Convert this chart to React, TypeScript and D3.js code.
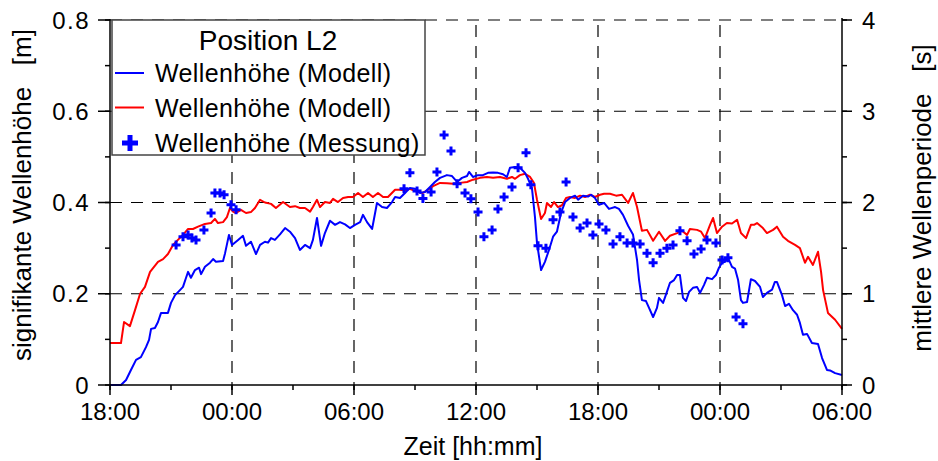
import React from 'react';
import * as d3 from 'd3';

// ---- data ----
const timeTicks = [0, 6, 12, 18, 24, 30, 36];
const timeTickLabels = ['18:00', '00:00', '06:00', '12:00', '18:00', '00:00', '06:00'];
const heightTicks = [0, 0.2, 0.4, 0.6, 0.8];
const heightTickLabels = ['0', '0.2', '0.4', '0.6', '0.8'];
const periodTicks = [0, 1, 2, 3, 4];
const periodTickLabels = ['0', '1', '2', '3', '4'];

const legendTitle = 'Position L2';
const seriesNames = ['Wellenhöhe (Modell)', 'Wellenhöhe (Modell)', 'Wellenhöhe (Messung)'];

// blue: model wave height [m], hours after 18:00
const blueHours = [0,0.54,0.79,1.03,1.28,1.52,1.77,1.92,2.02,2.21,
2.36,2.51,2.85,3.0,3.2,3.44,3.59,3.74,3.84,3.98,
4.18,4.38,4.48,4.67,4.92,5.07,5.21,5.56,5.66,5.85,
6.0,6.3,6.54,6.69,6.93,7.18,7.38,7.62,7.77,7.92,
8.11,8.36,8.61,8.85,9.1,9.34,9.59,9.84,9.98,10.18,
10.38,10.57,10.82,11.07,11.31,11.56,11.8,12.05,12.3,12.44,
12.64,12.89,13.13,13.38,13.62,13.87,14.02,14.26,14.51,14.75,
15.0,15.25,15.49,15.74,15.98,16.23,16.57,16.82,17.07,17.31,
17.56,17.66,17.85,18.1,18.34,18.59,18.84,19.08,19.33,19.52,
19.67,19.92,20.16,20.41,20.56,20.75,20.9,21.0,21.2,21.39,
21.59,21.79,21.98,22.18,22.38,22.62,22.87,23.02,23.26,23.51,
23.66,23.85,24.05,24.3,24.54,24.84,25.03,25.23,25.48,25.72,
25.92,26.02,26.16,26.36,26.51,26.71,26.9,27.0,27.2,27.39,
27.54,27.74,27.89,28.03,28.18,28.33,28.48,28.67,28.87,29.02,
29.21,29.36,29.61,29.8,29.95,30.1,30.25,30.39,30.59,30.74,
30.89,31.03,31.13,31.33,31.52,31.72,31.97,32.11,32.31,32.56,
32.7,32.8,33.05,33.2,33.39,33.59,33.79,33.93,34.08,34.28,
34.52,34.82,35.02,35.26,35.41,35.66,36.0];
const blueHeights = [0,0,0.011,0.033,0.055,0.061,0.083,0.099,0.123,0.125,
0.138,0.158,0.158,0.18,0.197,0.208,0.215,0.235,0.248,0.235,
0.252,0.257,0.243,0.259,0.268,0.276,0.27,0.272,0.289,0.329,
0.307,0.318,0.327,0.305,0.314,0.287,0.307,0.314,0.312,0.322,
0.318,0.33,0.344,0.336,0.322,0.296,0.307,0.3,0.318,0.366,
0.305,0.333,0.36,0.351,0.357,0.352,0.344,0.351,0.357,0.373,
0.357,0.342,0.399,0.39,0.388,0.401,0.412,0.41,0.421,0.432,
0.43,0.421,0.423,0.434,0.445,0.454,0.46,0.458,0.445,0.454,
0.458,0.467,0.456,0.46,0.46,0.465,0.466,0.465,0.462,0.456,
0.476,0.478,0.476,0.465,0.452,0.432,0.368,0.311,0.252,0.27,
0.296,0.325,0.336,0.377,0.401,0.41,0.415,0.406,0.415,0.413,
0.417,0.41,0.395,0.399,0.386,0.39,0.386,0.373,0.349,0.33,
0.274,0.23,0.186,0.184,0.169,0.149,0.169,0.191,0.18,0.204,
0.224,0.23,0.241,0.241,0.191,0.184,0.204,0.213,0.215,0.202,
0.219,0.235,0.232,0.241,0.257,0.268,0.27,0.279,0.259,0.255,
0.23,0.186,0.18,0.182,0.232,0.228,0.215,0.193,0.202,0.209,
0.226,0.226,0.197,0.173,0.178,0.164,0.154,0.136,0.11,0.112,
0.092,0.09,0.059,0.033,0.032,0.026,0.022];

// red: model mean wave period [s], right axis
const redHours = [0,0.54,0.69,0.98,1.23,1.48,1.72,1.97,2.36,2.61,
2.85,3.1,3.34,3.59,3.84,4.08,4.33,4.67,4.97,5.16,
5.31,5.56,5.75,5.9,6.05,6.2,6.44,6.69,6.93,7.13,
7.38,7.62,7.92,8.16,8.51,8.85,9.1,9.34,9.59,9.84,
9.98,10.18,10.33,10.57,10.82,10.97,11.21,11.46,11.71,11.95,
12.2,12.44,12.69,12.93,13.18,13.43,13.67,14.02,14.26,14.51,
14.75,14.9,15.15,15.39,15.64,15.89,16.23,16.57,16.87,17.21,
17.56,17.85,18.2,18.54,18.84,19.18,19.52,19.77,19.92,20.16,
20.41,20.66,20.85,21.0,21.2,21.39,21.49,21.69,21.84,22.03,
22.23,22.43,22.62,22.87,23.12,23.36,23.61,23.85,24.1,24.3,
24.59,24.89,25.18,25.48,25.72,25.92,26.16,26.41,26.71,27.0,
27.3,27.54,27.89,28.13,28.38,28.52,28.87,29.07,29.26,29.51,
29.66,29.85,30.1,30.34,30.59,30.84,31.03,31.28,31.52,31.67,
31.82,32.11,32.31,32.61,32.8,33.1,33.34,33.69,33.93,34.18,
34.33,34.57,34.82,34.97,35.07,35.31,35.66,36.0];
const redPeriods = [0.46,0.46,0.69,0.645,0.82,1.0,1.075,1.24,1.35,1.38,
1.435,1.535,1.59,1.645,1.71,1.71,1.735,1.765,1.775,1.82,
1.775,1.785,1.84,1.94,1.9,1.885,1.92,1.885,1.895,1.94,
2.03,2.0,1.985,1.94,2.005,1.95,1.96,1.94,1.94,1.9,
1.95,2.03,1.95,2.005,1.995,2.04,2.005,2.05,2.06,2.06,
2.105,2.06,2.105,2.06,2.105,2.06,2.06,2.14,2.14,2.13,
2.15,2.135,2.115,2.105,2.14,2.18,2.215,2.21,2.205,2.215,
2.225,2.25,2.27,2.28,2.27,2.28,2.26,2.28,2.26,2.3,
2.315,2.28,2.215,2.03,1.82,1.885,1.995,1.95,2.005,1.95,
1.97,2.05,2.06,2.05,2.075,2.06,2.085,2.06,2.085,2.095,
2.095,2.075,2.085,1.995,2.105,1.95,1.69,1.7,1.58,1.68,
1.58,1.635,1.665,1.69,1.645,1.71,1.7,1.68,1.61,1.755,
1.83,1.665,1.735,1.775,1.77,1.81,1.665,1.61,1.755,1.755,
1.775,1.72,1.665,1.7,1.735,1.625,1.58,1.535,1.5,1.34,
1.405,1.315,1.46,1.24,1.04,0.79,0.715,0.615];

// measured wave height [m]
const measHours = [3.25,3.59,3.84,4.03,4.23,4.62,4.97,5.16,5.41,5.61,
5.95,6.2,14.46,14.75,15.1,15.39,15.79,16.08,16.43,16.77,
17.07,17.46,17.75,18.1,18.39,18.79,19.08,19.38,19.77,20.07,
20.46,20.7,21.05,21.44,21.79,22.13,22.43,22.77,23.12,23.46,
23.75,24.05,24.39,24.74,25.08,25.43,25.72,26.07,26.41,26.71,
27.05,27.39,27.69,28.03,28.38,28.72,29.07,29.36,29.8,30.1,
30.39,30.79,31.13];
const measHeights = [0.307,0.325,0.329,0.322,0.318,0.34,0.377,0.421,0.421,0.417,
0.395,0.384,0.43,0.465,0.425,0.409,0.423,0.467,0.548,0.513,
0.441,0.421,0.408,0.379,0.325,0.34,0.386,0.412,0.434,0.476,
0.509,0.439,0.305,0.3,0.362,0.379,0.445,0.368,0.344,0.355,
0.329,0.353,0.34,0.309,0.325,0.311,0.311,0.309,0.289,0.268,
0.289,0.3,0.307,0.338,0.316,0.287,0.298,0.318,0.311,0.274,
0.279,0.149,0.134];

// ---- layout ----
const W = 938, H = 461;
const L = 110, R = 842, T = 20, B = 385;
const FONT = "'Liberation Sans', Arial, Helvetica, sans-serif";
const BLUE = '#0000ff', RED = '#ff0000';

export default function App() {
  const x = d3.scaleLinear().domain([0, 36]).range([L, R]);
  const yL = d3.scaleLinear().domain([0, 0.8]).range([B, T]);
  const yR = d3.scaleLinear().domain([0, 4]).range([B, T]);

  const blueData = blueHours.map((h, i) => [h, blueHeights[i]] as [number, number]);
  const redData = redHours.map((h, i) => [h, redPeriods[i]] as [number, number]);
  const measData = measHours.map((h, i) => [h, measHeights[i]] as [number, number]);

  const blueLine = d3.line<[number, number]>().x(d => x(d[0])).y(d => yL(d[1]))(blueData) || '';
  const redLine = d3.line<[number, number]>().x(d => x(d[0])).y(d => yR(d[1]))(redData) || '';

  const xMinor = d3.range(0, 36.01, 3);
  const yLMinor = d3.range(0, 0.801, 0.1);
  const yRMinor = d3.range(0, 4.01, 0.5);

  const cross = (s: number) => `M${-s},0H${s}M0,${-s}V${s}`;

  const legX = 112, legY = 20, legW = 313, legH = 135;

  return (
    <svg width={W} height={H} style={{ position: 'absolute', left: 0, top: 0, display: 'block', background: '#fff' }}
      fontFamily={FONT}>
      <rect x={0} y={0} width={W} height={H} fill="#fff" />
      {/* grid */}
      <g stroke="#000" strokeWidth={1.2} strokeDasharray="12 9">
        {heightTicks.filter(v => v > 0).map(v => (
          <line key={'gh' + v} x1={L} x2={R} y1={yL(v)} y2={yL(v)} />
        ))}
        {timeTicks.filter(t => t > 0 && t < 36).map(t => (
          <line key={'gv' + t} x1={x(t)} x2={x(t)} y1={T + 5} y2={B} />
        ))}
      </g>
      {/* legend box */}
      <rect x={legX} y={legY} width={legW} height={legH} fill="#fff" stroke="#444" strokeWidth={1.5} />
      <text x={268} y={50} fontSize={28} textAnchor="middle" fill="#000">{legendTitle}</text>
      <line x1={115} x2={144} y1={73} y2={73} stroke={BLUE} strokeWidth={2} />
      <text x={155} y={82} fontSize={25} letterSpacing={0.4} fill="#000">{seriesNames[0]}</text>
      <line x1={115} x2={144} y1={107.5} y2={107.5} stroke={RED} strokeWidth={2} />
      <text x={155} y={117} fontSize={25} letterSpacing={0.4} fill="#000">{seriesNames[1]}</text>
      <path d={cross(8)} transform="translate(130,143)" stroke={BLUE} strokeWidth={5} fill="none" />
      <text x={155} y={152} fontSize={25} letterSpacing={0.4} fill="#000">{seriesNames[2]}</text>

      {/* series */}
      <path d={redLine} fill="none" stroke={RED} strokeWidth={2} strokeLinejoin="round" />
      <path d={blueLine} fill="none" stroke={BLUE} strokeWidth={2} strokeLinejoin="round" />
      {measData.map((d, i) => (
        <path key={'m' + i} d={cross(4.5)} transform={`translate(${x(d[0])},${yL(d[1])})`}
          stroke={BLUE} strokeWidth={3} fill="none" />
      ))}

      {/* axes */}
      <g stroke="#000" strokeWidth={1.5}>
        <line x1={L} x2={L} y1={T - 1} y2={B} />
        <line x1={R} x2={R} y1={T - 2} y2={B + 2} />
        <line x1={L} x2={R} y1={B} y2={B} />
        {yLMinor.map(v => <line key={'ylm' + v} x1={L - 5} x2={L} y1={yL(v)} y2={yL(v)} />)}
        {heightTicks.map(v => <line key={'ylM' + v} x1={L - 12} x2={L} y1={yL(v)} y2={yL(v)} />)}
        {yRMinor.map(v => <line key={'yrm' + v} x1={R} x2={R + 5} y1={yR(v)} y2={yR(v)} />)}
        {periodTicks.map(v => <line key={'yrM' + v} x1={R} x2={R + 10} y1={yR(v)} y2={yR(v)} />)}
        {xMinor.map(t => <line key={'xm' + t} x1={x(t)} x2={x(t)} y1={B} y2={B + 5} />)}
        {timeTicks.map(t => <line key={'xM' + t} x1={x(t)} x2={x(t)} y1={B} y2={B + 10} />)}
      </g>
      {/* tick labels */}
      {heightTicks.map((v, i) => (
        <text key={'hl' + v} x={90} y={yL(v)} dy="0.36em" fontSize={24} textAnchor="end" letterSpacing={1.5} fill="#000">
          {heightTickLabels[i]}
        </text>
      ))}
      {periodTicks.map((v, i) => (
        <text key={'pl' + v} x={862} y={yR(v)} dy="0.36em" fontSize={24} textAnchor="start" fill="#000">
          {periodTickLabels[i]}
        </text>
      ))}
      {timeTicks.map((t, i) => (
        <text key={'tl' + t} x={x(t)} y={420} fontSize={24} textAnchor="middle" fill="#000">
          {timeTickLabels[i]}
        </text>
      ))}
      {/* axis titles */}
      <text x={473} y={455} fontSize={25} textAnchor="middle" fill="#000">Zeit [hh:mm]</text>
      <text transform="translate(31,195) rotate(-90)" fontSize={26} textAnchor="middle" fill="#000"
        style={{ whiteSpace: 'pre' }}>{'signifikante Wellenhöhe   [m]'}</text>
      <text transform="translate(931,198) rotate(-90)" fontSize={26} textAnchor="middle" fill="#000"
        style={{ whiteSpace: 'pre' }}>{'mittlere Wellenperiode   [s]'}</text>
    </svg>
  );
}
